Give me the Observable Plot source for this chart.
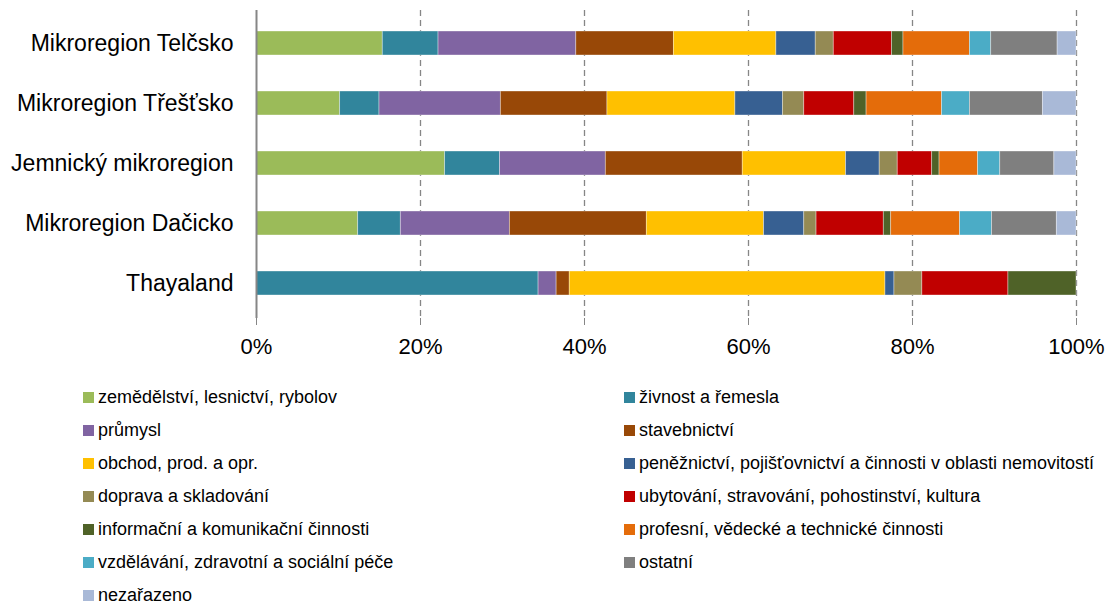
<!DOCTYPE html>
<html>
<head>
<meta charset="utf-8">
<script src="https://cdn.jsdelivr.net/npm/d3@7"></script>
<script src="https://cdn.jsdelivr.net/npm/@observablehq/plot@0.6"></script>
<style>
  html, body { margin: 0; padding: 0; background: #fff; }
  body { width: 1109px; height: 604px; overflow: hidden; font-family: "Liberation Sans", Arial, sans-serif; }
  #legend { display: grid; grid-template-columns: 541px 485px; padding-left: 83px; padding-top: 10px; row-gap: 0; }
  .item { display: flex; align-items: center; height: 33px; font-size: 18px; color: #000; white-space: nowrap; }
  .sw { width: 11px; height: 11px; margin-right: 4px; flex: none; }
</style>
</head>
<body>
<div id="chart"></div>
<div id="legend"></div>
<script>
const regions = ["Mikroregion Telčsko", "Mikroregion Třešťsko", "Jemnický mikroregion", "Mikroregion Dačicko", "Thayaland"];
const sectors = [
  "zemědělství, lesnictví, rybolov",
  "živnost a řemesla",
  "průmysl",
  "stavebnictví",
  "obchod, prod. a opr.",
  "peněžnictví, pojišťovnictví a činnosti v oblasti nemovitostí",
  "doprava a skladování",
  "ubytování, stravování, pohostinství, kultura",
  "informační a komunikační činnosti",
  "profesní, vědecké a technické činnosti",
  "vzdělávání, zdravotní a sociální péče",
  "ostatní",
  "nezařazeno"
];
const colors = ["#9BBB59", "#31859C", "#8064A2", "#984807", "#FFC000", "#376092", "#948A54", "#C00000", "#4F6228", "#E46C0A", "#4BACC6", "#7F7F7F", "#A9B9D7"];

// percent shares per sector, in the order of `regions`
const zemedelstvi  = [15.4, 10.2, 23.0, 12.4, 0];
const zivnost      = [6.8, 4.8, 6.7, 5.2, 34.4];
const prumysl      = [16.8, 14.8, 12.9, 13.3, 2.2];
const stavebnictvi = [11.9, 13.0, 16.7, 16.7, 1.6];
const obchod       = [12.5, 15.6, 12.6, 14.3, 38.5];
const peneznictvi  = [4.8, 5.8, 4.1, 4.9, 1.1];
const doprava      = [2.2, 2.6, 2.2, 1.5, 3.4];
const ubytovani    = [7.1, 6.1, 4.2, 8.2, 10.5];
const informacni   = [1.4, 1.5, 0.9, 0.9, 8.3];
const profesni     = [8.1, 9.2, 4.7, 8.4, 0];
const vzdelavani   = [2.6, 3.4, 2.7, 3.9, 0];
const ostatni      = [8.1, 8.9, 6.6, 7.9, 0];
const nezarazeno   = [2.3, 4.1, 2.7, 2.4, 0];

const series = [zemedelstvi, zivnost, prumysl, stavebnictvi, obchod, peneznictvi, doprava, ubytovani, informacni, profesni, vzdelavani, ostatni, nezarazeno];
const xTicks = [0, 20, 40, 60, 80, 100];

const data = [];
sectors.forEach((s, i) => regions.forEach((r, j) => data.push({region: r, sector: s, value: series[i][j]})));

const chart = Plot.plot({
  width: 1109,
  height: 371,
  marginLeft: 256,
  marginRight: 33,
  marginTop: 10,
  marginBottom: 53,
  style: {fontFamily: "'Liberation Sans', Arial, sans-serif", fontSize: "22px", background: "#fff"},
  x: {domain: [0, 100], ticks: xTicks},
  y: {domain: regions, paddingInner: 0.6, paddingOuter: 0.3, insetTop: 2, insetBottom: 4},
  color: {domain: sectors, range: colors},
  marks: [
    Plot.ruleX(xTicks.filter(d => d > 0), {stroke: "#868686", strokeWidth: 1.3, strokeDasharray: "6,4"}),
    Plot.barX(data, Plot.stackX({x: "value", y: "region", fill: "sector", order: sectors, stroke: "#fff", strokeOpacity: 0.45, strokeWidth: 0.8})),
    Plot.ruleX([0], {stroke: "#868686", strokeWidth: 2}),
    Plot.ruleY([0], {x1: 0, x2: 100, frameAnchor: "bottom", stroke: "#868686", strokeWidth: 2}),
    Plot.axisX({ticks: xTicks, tickFormat: d => d + "%", tickSize: 7, tickPadding: 13, stroke: "#868686", color: "#000", fontSize: 22, label: null}),
    Plot.axisY({tickSize: 0, tickPadding: 23, fontSize: 23, color: "#000", label: null})
  ]
});
document.getElementById("chart").appendChild(chart);

const legend = document.getElementById("legend");
sectors.forEach((s, i) => {
  const item = document.createElement("div");
  item.className = "item";
  const sw = document.createElement("span");
  sw.className = "sw";
  sw.style.background = colors[i];
  const t = document.createElement("span");
  t.textContent = s;
  item.appendChild(sw);
  item.appendChild(t);
  legend.appendChild(item);
});
</script>
</body>
</html>
